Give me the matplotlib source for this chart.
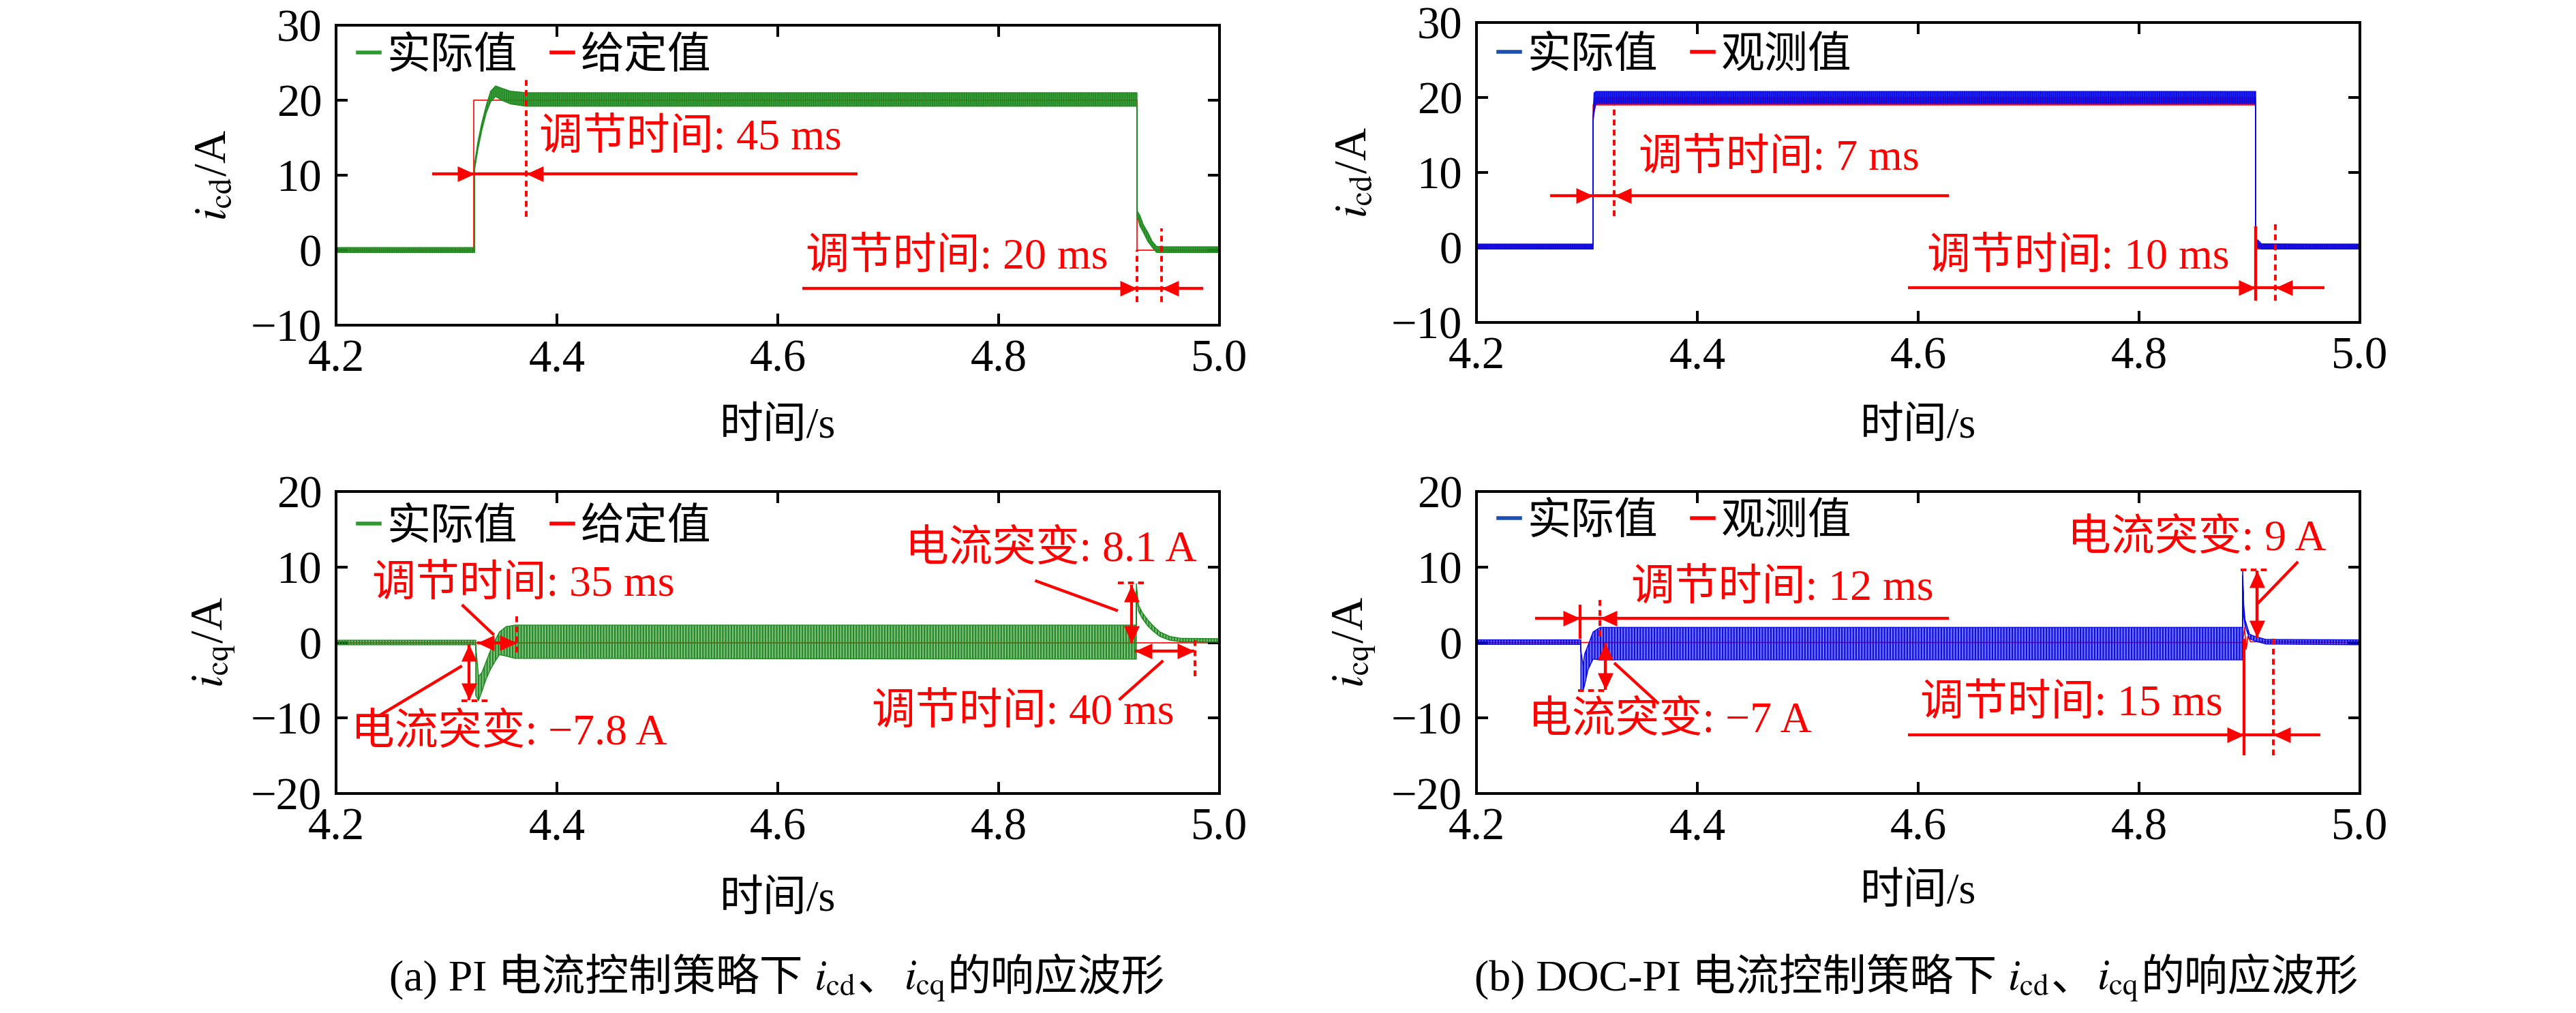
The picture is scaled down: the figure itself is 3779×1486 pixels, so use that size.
import numpy as np
import matplotlib
matplotlib.use('Agg')
import matplotlib.pyplot as plt
from matplotlib.path import Path
from matplotlib.lines import Line2D
from matplotlib.colors import to_rgba

plt.rcParams['font.family'] = ['Liberation Serif', 'Noto Sans CJK SC']
plt.rcParams['mathtext.fontset'] = 'stix'
plt.rcParams['axes.unicode_minus'] = True
plt.rcParams['hatch.linewidth'] = 1.5

FW, FH, DPI = 3780, 1486, 100
FS = 46

# ---------------- data ----------------
time_ticks = [4.2, 4.4, 4.6, 4.8, 5.0]
time_ticklabels = ['4.2', '4.4', '4.6', '4.8', '5.0']
cd_ticks = [-10, 0, 10, 20, 30]
cq_ticks = [-20, -10, 0, 10, 20]

legend_a = ['实际值', '给定值']
legend_b = ['实际值', '观测值']

# (a) PI, i_cd actual value (envelope of the ripple)
a_cd_t = [4.2, 4.3255, 4.3255, 4.3285, 4.332, 4.336, 4.340, 4.3445, 4.350, 4.358, 4.372, 4.40,
          4.9253, 4.9253, 4.928, 4.931, 4.935, 4.939, 4.943, 4.950, 5.0]
a_cd_hi = [0.35, 0.35, 11.6, 14.5, 17.0, 19.3, 21.2, 21.9, 21.6, 21.2, 21.0, 21.0,
           21.0, 5.3, 4.6, 3.4, 2.4, 1.2, 0.5, 0.45, 0.45]
a_cd_lo = [-0.3, -0.3, 10.8, 13.5, 16.0, 18.3, 19.8, 20.5, 20.0, 19.5, 19.2, 19.2,
           19.2, 4.6, 3.2, 2.4, 1.2, 0.4, -0.3, -0.3, -0.3]
# (a) PI, i_cd reference value
a_cd_ref_t = [4.2, 4.3245, 4.3245, 4.9250, 4.9250, 5.0]
a_cd_ref_v = [0, 0, 20, 20, 0, 0]

# (b) DOC-PI, i_cd actual value
b_cd_t = [4.2, 4.3056, 4.3056, 4.3065, 4.308, 4.9056, 4.9056, 4.9075, 4.911, 5.0]
b_cd_hi = [0.45, 0.45, 17.5, 20.6, 20.8, 20.8, 1.0, 1.0, 0.45, 0.45]
b_cd_lo = [-0.2, -0.2, 16.8, 18.0, 19.2, 19.2, -0.2, 0.0, -0.2, -0.2]
# (b) DOC-PI, i_cd observed value
b_cd_obs_t = [4.2, 4.3056, 4.3056, 4.308, 4.9056, 4.9056, 5.0]
b_cd_obs_hi = [0.3, 0.3, 19.0, 20.0, 20.0, 0.5, 0.3]
b_cd_obs_lo = [-0.2, -0.2, 17.5, 19.0, 19.0, -0.2, -0.2]

# (a) PI, i_cq actual value
a_cq_t = [4.2, 4.3265, 4.3265, 4.329, 4.332, 4.336, 4.340, 4.344, 4.348, 4.354, 4.362,
          4.9247, 4.9247, 4.9265, 4.930, 4.935, 4.940, 4.946, 4.955, 4.965, 5.0]
a_cq_hi = [0.3, 0.3, -0.5, -4.5, -4.0, -2.5, -1.0, 0.3, 1.4, 2.1, 2.3,
           2.3, 7.8, 5.0, 4.0, 3.0, 2.2, 1.4, 0.8, 0.55, 0.5]
a_cq_lo = [-0.3, -0.3, -7.0, -7.7, -6.5, -4.8, -3.5, -2.5, -1.6, -1.8, -2.1,
           -2.2, 6.8, 4.2, 3.2, 2.2, 1.5, 0.8, 0.3, 0.1, 0.05]
a_cq_ref_t = [4.2, 5.0]
a_cq_ref_v = [0, 0]

# (b) DOC-PI, i_cq actual value
b_cq_t = [4.2, 4.2945, 4.2945, 4.2965, 4.298, 4.301, 4.3056, 4.312,
          4.8938, 4.8938, 4.8948, 4.896, 4.900, 4.905, 4.915, 5.0]
b_cq_hi = [0.35, 0.35, -1.0, -3.0, -1.5, -0.4, 1.4, 2.0,
           2.0, 9.6, 5.0, 3.0, 1.1, 0.8, 0.4, 0.35]
b_cq_lo = [-0.25, -0.25, -6.4, -6.4, -5.6, -3.6, -2.2, -2.3,
           -2.3, 8.8, 3.5, 2.2, 0.5, 0.2, -0.2, -0.3]
b_cq_obs_t = [4.2, 4.8938, 4.8955, 4.897, 4.8985, 4.901, 5.0]
b_cq_obs_v = [0.0, 0.0, 2.0, -0.9, 0.8, 0.1, 0.0]

# ---------------- annotations (data coordinates) ----------------
a_cd_ann = dict(
    hlines=[(10.2, 4.287, 4.672), (-5.1, 4.622, 4.985)],
    vsolid=[],
    vdash=[(4.372, 4.5, 23.1), (4.9253, -6.9, 0.0), (4.9475, -6.9, 2.9)],
    hdots=[],
    leaders=[],
    heads=[(4.3255, 10.2, 'r'), (4.372, 10.2, 'l'), (4.9253, -5.1, 'r'), (4.9475, -5.1, 'l')],
    texts=[('调节时间: 45 ms', 4.384, 14.9), ('调节时间: 20 ms', 4.625, -1.0)],
)
b_cd_ann = dict(
    hlines=[(6.9, 4.2667, 4.628), (-5.4, 4.591, 4.968)],
    vsolid=[(4.9056, -7.1, 2.8)],
    vdash=[(4.3247, 4.2, 19.1), (4.9235, -7.1, 3.2)],
    hdots=[],
    leaders=[],
    heads=[(4.3056, 6.9, 'r'), (4.3247, 6.9, 'l'), (4.9056, -5.4, 'r'), (4.9235, -5.4, 'l')],
    texts=[('调节时间: 7 ms', 4.347, 11.8), ('调节时间: 10 ms', 4.608, -1.4)],
)
a_cq_ann = dict(
    hlines=[(0.0, 4.3278, 4.3636), (-1.1, 4.9235, 4.977)],
    vsolid=[(4.3205, -7.6, -0.2), (4.9204, 0.0, 7.6)],
    vdash=[(4.3636, -1.3, 3.7), (4.978, -4.5, 0.3)],
    hdots=[(-7.7, 4.3136, 4.340), (7.9, 4.908, 4.935)],
    leaders=[((4.314, -3.1), (4.240, -9.6)), ((4.343, 1.0), (4.314, 5.0)),
             ((4.908, 4.2), (4.833, 8.2)), ((4.949, -2.4), (4.909, -7.6))],
    heads=[(4.3205, -0.2, 'u'), (4.3205, -7.6, 'd'), (4.3278, 0.0, 'l'), (4.3636, 0.0, 'r'),
           (4.9204, 7.6, 'u'), (4.9204, 0.0, 'd'), (4.9235, -1.1, 'l'), (4.977, -1.1, 'r')],
    texts=[('调节时间: 35 ms', 4.233, 7.6), ('电流突变: \u22127.8 A', 4.2136, -12.1),
           ('电流突变: 8.1 A', 4.7154, 12.2), ('调节时间: 40 ms', 4.685, -9.4)],
)
b_cq_ann = dict(
    hlines=[(3.2, 4.253, 4.628), (-12.2, 4.591, 4.964)],
    vsolid=[(4.294, 0.5, 5.0), (4.3167, -6.3, 0.0), (4.907, 0.7, 9.5), (4.895, -14.9, 0.5)],
    vdash=[(4.312, 0.9, 5.7), (4.9216, -14.9, 0.7)],
    hdots=[(-6.4, 4.292, 4.318), (9.6, 4.892, 4.918)],
    leaders=[((4.3247, -2.7), (4.365, -8.1)), ((4.907, 5.1), (4.944, 10.7))],
    heads=[(4.294, 3.2, 'r'), (4.312, 3.2, 'l'), (4.3167, 0.0, 'u'), (4.3167, -6.3, 'd'),
           (4.907, 9.5, 'u'), (4.907, 0.7, 'd'), (4.895, -12.2, 'r'), (4.9216, -12.2, 'l')],
    texts=[('调节时间: 12 ms', 4.340, 7.1), ('电流突变: \u22127 A', 4.247, -10.5),
           ('电流突变: 9 A', 4.735, 13.6), ('调节时间: 15 ms', 4.602, -8.2)],
)

# ---------------- styles ----------------
GREEN = '#1f8a1f'
BLUE = '#0a0ae6'
RED = '#ff0000'
LW_ANN = 3.1
C = [Path.MOVETO, Path.LINETO, Path.LINETO, Path.CLOSEPOLY]
HEADS = {
    'r': Path([(0, 0), (-1, 0.46), (-1, -0.46), (0, 0)], C),
    'l': Path([(0, 0), (1, 0.46), (1, -0.46), (0, 0)], C),
    'u': Path([(0, 0), (0.46, -1), (-0.46, -1), (0, 0)], C),
    'd': Path([(0, 0), (0.46, 1), (-0.46, 1), (0, 0)], C),
}

fig = plt.figure(figsize=(FW / DPI, FH / DPI), dpi=DPI)


def make_axes(l, t, r, b, ylim, yticks):
    ax = fig.add_axes([l / FW, 1 - b / FH, (r - l) / FW, (b - t) / FH])
    ax.set_xlim(4.2, 5.0)
    ax.set_ylim(*ylim)
    ax.set_xticks(time_ticks)
    ax.set_xticklabels(time_ticklabels)
    ax.set_yticks(yticks)
    ax.tick_params(direction='in', length=12, width=2.9, labelsize=48,
                   top=True, right=True)
    ax.tick_params(axis='x', pad=15)
    ax.tick_params(axis='y', pad=15)
    for s in ax.spines.values():
        s.set_linewidth(2.9)
    return ax


def band(ax, t, lo, hi, color, alpha, hatch, z=2):
    ax.fill_between(t, lo, hi, facecolor=to_rgba(color, alpha), edgecolor=color,
                    hatch=hatch, linewidth=1.0, zorder=z)


def annotate(ax, ann):
    for y, x0, x1 in ann['hlines']:
        ax.plot([x0, x1], [y, y], color=RED, lw=LW_ANN, solid_capstyle='butt', zorder=5)
    for x, y0, y1 in ann['vsolid']:
        ax.plot([x, x], [y0, y1], color=RED, lw=LW_ANN, solid_capstyle='butt', zorder=5)
    for x, y0, y1 in ann['vdash']:
        ax.plot([x, x], [y0, y1], color=RED, lw=2.8, ls=(0, (2.2, 1.6)), zorder=5)
    for y, x0, x1 in ann['hdots']:
        ax.plot([x0, x1], [y, y], color=RED, lw=2.8, ls=(0, (2.2, 1.6)), zorder=5)
    for (x0, y0), (x1, y1) in ann['leaders']:
        ax.plot([x0, x1], [y0, y1], color=RED, lw=LW_ANN, solid_capstyle='butt', zorder=5)
    for x, y, d in ann['heads']:
        ax.plot([x], [y], marker=HEADS[d], ms=36, mfc=RED, mec=RED, mew=0, ls='none', zorder=6)
    for s, x, y in ann['texts']:
        ax.text(x, y, s, color=RED, fontsize=FS, ha='left', va='center', zorder=7)


def legend(ax, c1, c2, labels, yc):
    hs = [Line2D([], [], color=c1, lw=4), Line2D([], [], color=c2, lw=4)]
    ax.legend(hs, labels, loc='center left', bbox_to_anchor=(0.0247, yc), ncol=2,
              frameon=False, handlelength=0.5, handletextpad=0.17, columnspacing=0.77,
              borderpad=0, borderaxespad=0, fontsize=FS)


def ylabel(ax, s):
    ax.text(-0.138, 0.5, s, rotation=90, ha='center', va='center',
            transform=ax.transAxes, fontsize=FS + 2)


# (a) i_cd
ax1 = make_axes(493, 37, 1789, 477, (-10, 30), cd_ticks)
ax1.plot(a_cd_ref_t, a_cd_ref_v, color=RED, lw=1.2, zorder=1.5)
band(ax1, a_cd_t, a_cd_lo, a_cd_hi, GREEN, 0.7, '||||||')
annotate(ax1, a_cd_ann)
legend(ax1, '#2e9a2e', RED, legend_a, 0.893)
ylabel(ax1, r'$i_{\rm cd}$/A')

# (b) i_cd
ax2 = make_axes(2166, 33, 3462, 473, (-10, 30), cd_ticks)
band(ax2, b_cd_obs_t, b_cd_obs_lo, b_cd_obs_hi, RED, 0.6, '||||||', z=1.8)
band(ax2, b_cd_t, b_cd_lo, b_cd_hi, BLUE, 0.75, '||||||')
annotate(ax2, b_cd_ann)
legend(ax2, '#1c4fb0', RED, legend_b, 0.886)
ylabel(ax2, r'$i_{\rm cd}$/A')

# (a) i_cq
ax3 = make_axes(493, 721, 1789, 1164, (-20, 20), cq_ticks)
ax3.plot(a_cq_ref_t, a_cq_ref_v, color=RED, lw=1.2, zorder=1.5)
band(ax3, a_cq_t, a_cq_lo, a_cq_hi, GREEN, 0.55, '||||')
annotate(ax3, a_cq_ann)
legend(ax3, '#2e9a2e', RED, legend_a, 0.878)
ylabel(ax3, r'$i_{\rm cq}$/A')

# (b) i_cq
ax4 = make_axes(2166, 721, 3462, 1164, (-20, 20), cq_ticks)
ax4.plot(b_cq_obs_t, b_cq_obs_v, color=RED, lw=1.2, zorder=1.5)
band(ax4, b_cq_t, b_cq_lo, b_cq_hi, BLUE, 0.55, '||||')
annotate(ax4, b_cq_ann)
legend(ax4, '#1c4fb0', RED, legend_b, 0.896)
ylabel(ax4, r'$i_{\rm cq}$/A')

# x labels
for xc, yc in [(1141, 627), (2814, 627), (1141, 1321), (2814, 1310)]:
    fig.text(xc / FW, 1 - yc / FH, '时间/s', ha='center', va='center', fontsize=FS)


# captions built from pieces (CJK text + math subscripts)
def caption(xc, ybase, pieces):
    texts = [fig.text(0, 1 - ybase / FH, s, ha='left', va='baseline', fontsize=FS)
             for s, _ in pieces]
    fig.canvas.draw()
    r = fig.canvas.get_renderer()
    widths = [t.get_window_extent(r).width + g for t, (_, g) in zip(texts, pieces)]
    x = xc - sum(widths) / 2
    for t, w in zip(texts, widths):
        t.set_x(x / FW)
        x += w


caption(1140, 1452, [('(a) PI 电流控制策略下', 16), (r'$i_{\rm cd}$', 2), ('、', 4),
                     (r'$i_{\rm cq}$', 2), ('的响应波形', 0)])
caption(2811, 1452, [('(b) DOC-PI 电流控制策略下', 16), (r'$i_{\rm cd}$', 2), ('、', 4),
                     (r'$i_{\rm cq}$', 2), ('的响应波形', 0)])

fig.savefig('out.png', dpi=DPI)
